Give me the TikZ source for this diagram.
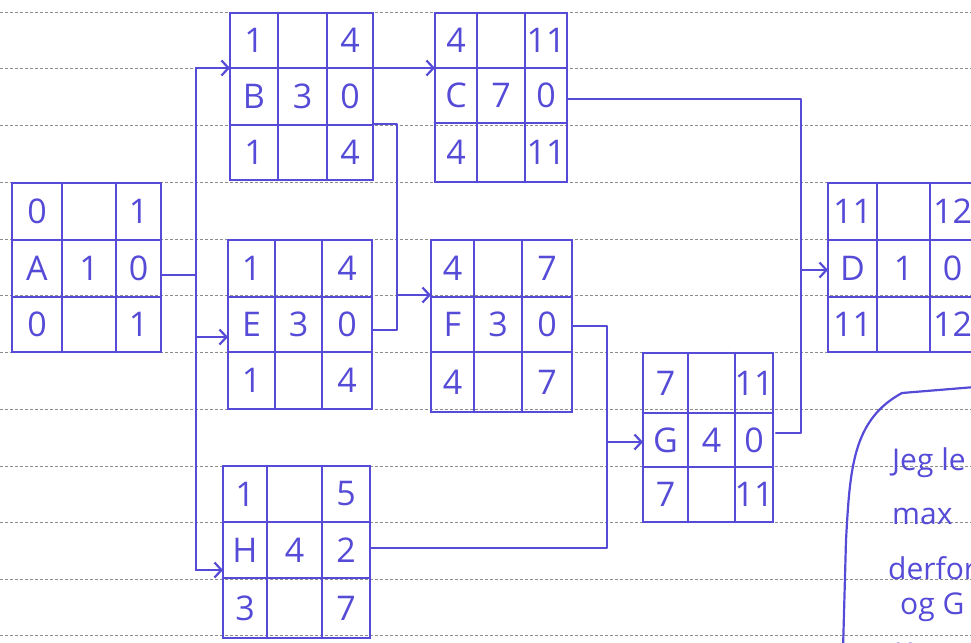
\documentclass[tikz,border=0pt]{standalone}
\usepackage{fontspec}
\setmainfont{Open Sans}
\usetikzlibrary{arrows.meta,calc}
\definecolor{ink}{RGB}{85,75,215}
\definecolor{rulegray}{RGB}{140,140,140}
% name, x0,x1,x2,x3, y0,y1,y2,y3
\newcommand\actbox[9]{%
  \draw[box] (#2,#6) rectangle (#5,#9);
  \draw[box] (#3,#6) -- (#3,#9) (#4,#6) -- (#4,#9) (#2,#7) -- (#5,#7) (#2,#8) -- (#5,#8);
  \coordinate (#1-tl) at ({(#2+#3)/2},{(#6+#7)/2});
  \coordinate (#1-tr) at ({(#4+#5)/2},{(#6+#7)/2});
  \coordinate (#1-ml) at ({(#2+#3)/2},{(#7+#8)/2});
  \coordinate (#1-mc) at ({(#3+#4)/2},{(#7+#8)/2});
  \coordinate (#1-mr) at ({(#4+#5)/2},{(#7+#8)/2});
  \coordinate (#1-bl) at ({(#2+#3)/2},{(#8+#9)/2});
  \coordinate (#1-br) at ({(#4+#5)/2},{(#8+#9)/2});
}
\newcommand\acttext[8]{%
  \node[lbl] (#1-ta) at (#1-tl) {#2};
  \node[lbl] (#1-tb) at (#1-tr) {#3};
  \node[lbl] (#1-tc) at (#1-ml) {#4};
  \node[lbl] (#1-td) at (#1-mc) {#5};
  \node[lbl] (#1-te) at (#1-mr) {#6};
  \node[lbl] (#1-tf) at (#1-bl) {#7};
  \node[lbl] (#1-tg) at (#1-br) {#8};
}
\begin{document}
\begin{tikzpicture}[x=1pt,y=-1pt,
  box/.style={draw=ink,line width=2.6pt,line cap=round},
  link/.style={draw=ink,line width=2.2pt,line cap=round,line join=round},
  arr/.style={link,-{Straight Barb[length=7pt,width=15pt]}},
  lbl/.style={text=ink,font=\fontsize{34}{36}\selectfont,inner sep=0pt},
  note/.style={text=ink,font=\fontsize{30}{32}\selectfont,inner sep=0pt,anchor=base west},
  ruleline/.style={draw=rulegray,line width=0.7pt,dash pattern=on 3pt off 2pt}]
\useasboundingbox (0,0) rectangle (971,642);
\clip (0,0) rectangle (971,642);
% ruled paper
\foreach \yy in {12,68.5,125,182,239,295.5,352.5,409,466,522,579,635}
  \draw[ruleline] (0,\yy) -- (971,\yy);

% activity boxes
\actbox{A}{12}{62}{116}{161}{183}{240}{297}{352}
\actbox{B}{230}{278}{327}{373}{13}{68}{125}{180}
\actbox{C}{435}{477}{525}{567}{13}{68}{123}{182}
\actbox{E}{228}{275}{322}{372}{240}{297}{352}{409}
\actbox{F}{431}{474}{522}{572}{240}{297}{352}{412}
\actbox{G}{643}{688}{735}{773}{353}{413}{467}{522}
\actbox{H}{223}{267}{322}{370}{466}{522}{578}{638}
\actbox{D}{828}{877}{930}{975}{183}{240}{297}{352}

\acttext{A}{0}{1}{A}{1}{0}{0}{1}
\acttext{B}{1}{4}{B}{3}{0}{1}{4}
\acttext{C}{4}{11}{C}{7}{0}{4}{11}
\acttext{E}{1}{4}{E}{3}{0}{1}{4}
\acttext{F}{4}{7}{F}{3}{0}{4}{7}
\acttext{G}{7}{11}{G}{4}{0}{7}{11}
\acttext{H}{1}{5}{H}{4}{2}{3}{7}
\acttext{D}{11}{12}{D}{1}{0}{11}{12}

% connector points
\coordinate (A-out) at (161,275);
\coordinate (tA) at (196,275);
\coordinate (tTop) at (196,68);
\coordinate (tE) at (196,337);
\coordinate (tBot) at (196,570);
\coordinate (B-in) at (230,68);
\coordinate (E-in) at (228,337);
\coordinate (H-in) at (223,570);
\coordinate (B-out) at (373,68);
\coordinate (C-in) at (435,68);
\coordinate (B-out2) at (373,124);
\coordinate (fJ) at (397,295);
\coordinate (F-in) at (431,295);
\coordinate (E-out) at (372,330);
\coordinate (C-out) at (567,99);
\coordinate (dJ) at (801,270);
\coordinate (D-in) at (828,270);
\coordinate (G-out) at (776,433);
\coordinate (F-out) at (572,326);
\coordinate (gJ) at (607,442);
\coordinate (G-in) at (643,442);
\coordinate (H-out) at (370,548);

% connectors
\draw[link] (A-out) -- (tA);
\draw[link] (tTop) -- (tBot);
\draw[arr] (tTop) -- (B-in);
\draw[arr] (tE) -- (E-in);
\draw[arr] (tBot) -- (H-in);
\draw[arr] (B-out) -- (C-in);
\draw[arr] (B-out2) -| (fJ) -- (F-in);
\draw[link] (E-out) -| (fJ);
\draw[link] (C-out) -| (dJ);
\draw[arr] (dJ) -- (D-in);
\draw[link] (G-out) -| (dJ);
\draw[link] (F-out) -| (gJ);
\draw[arr] (gJ) -- (G-in);
\draw[link] (H-out) -| (gJ);

% note bubble
\draw[link] (843,650) -- (846,540) .. controls (850,470) and (852,420) .. (902,393) -- (975,387);
\node[note] (n1) at (892,470) {Jeg le};
\node[note] (n2) at (892,524) {max};
\node[note] (n3) at (888,579) {derfor};
\node[note] (n4) at (900,614) {og G};
\node[note] (n5) at (894,664) {Kost};
\end{tikzpicture}
\end{document}
